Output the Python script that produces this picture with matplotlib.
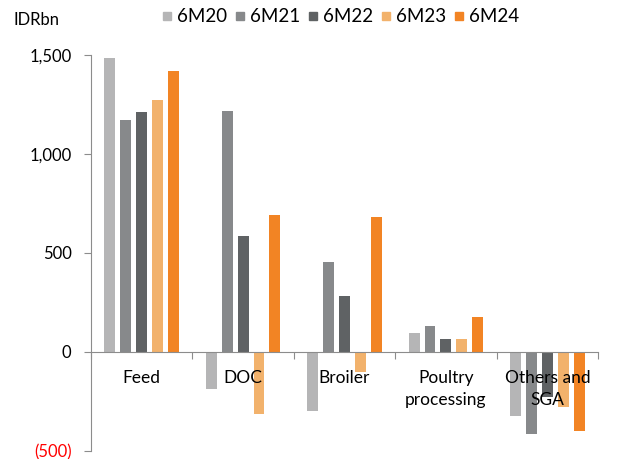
import matplotlib.pyplot as plt
import numpy as np
from matplotlib.lines import Line2D
from matplotlib.ticker import FixedLocator, NullFormatter

plt.rcParams['font.family'] = ['Lato', 'DejaVu Sans']

categories = ['Feed', 'DOC', 'Broiler', 'Poultry\nprocessing', 'Others and\nSGA']
periods = ['6M20', '6M21', '6M22', '6M23', '6M24']
colors = ['#B5B5B6', '#87898B', '#5F6264', '#F2B26C', '#F28424']

v6m20 = [1485, -190, -298, 96, -323]
v6m21 = [1172, 1217, 455, 131, -414]
v6m22 = [1212, 586, 283, 66, -227]
v6m23 = [1273, -313, -101, 66, -278]
v6m24 = [1419, 692, 682, 177, -399]
series = [v6m20, v6m21, v6m22, v6m23, v6m24]

fig = plt.figure(figsize=(6.23, 4.59), dpi=100)
ax = fig.add_axes([0.146, 0.018, 0.814, 0.8627])

x = np.arange(len(categories))
step = 0.157
width = 0.108
for k, (vals, col) in enumerate(zip(series, colors)):
    ax.bar(x + (k - 2) * step, vals, width, color=col, label=periods[k], zorder=2)

ax.set_xlim(-0.5, len(categories) - 0.5)
ax.set_ylim(-500, 1500)

for s in ['top', 'right']:
    ax.spines[s].set_visible(False)
ax.spines['bottom'].set_position(('data', 0))
ax.spines['left'].set_color('#8C8C8C')
ax.spines['bottom'].set_color('#8C8C8C')

# category separators as ticks on the zero line
ax.xaxis.set_major_locator(FixedLocator(np.arange(-0.5, len(categories), 1.0)))
ax.xaxis.set_major_formatter(NullFormatter())
ax.tick_params(axis='x', which='major', direction='out', length=5, color='#8C8C8C')

# category names drawn over the bars
for xi, name in zip(x, categories):
    ax.text(xi, -92, name, ha='center', va='top', fontsize=12.5,
            linespacing=1.45, zorder=5)

ax.set_yticks([-500, 0, 500, 1000, 1500])
ax.set_yticklabels(['(500)', '0', '500', '1,000', '1,500'])
ax.tick_params(axis='y', direction='out', length=5, color='#8C8C8C', labelsize=12, pad=9)
ax.get_yticklabels()[0].set_color('red')

fig.text(0.021, 0.957, 'IDRbn', fontsize=12, va='center', ha='left')

handles = [Line2D([], [], marker='s', linestyle='none', markersize=6,
                  markerfacecolor=c, markeredgecolor=c) for c in colors]
fig.legend(handles, periods, loc='center', bbox_to_anchor=(0.546, 0.963), ncol=5,
           frameon=False, fontsize=13.5, handletextpad=0.2, columnspacing=0.42,
           handlelength=0.6)

fig.savefig('out.png', dpi=100)
